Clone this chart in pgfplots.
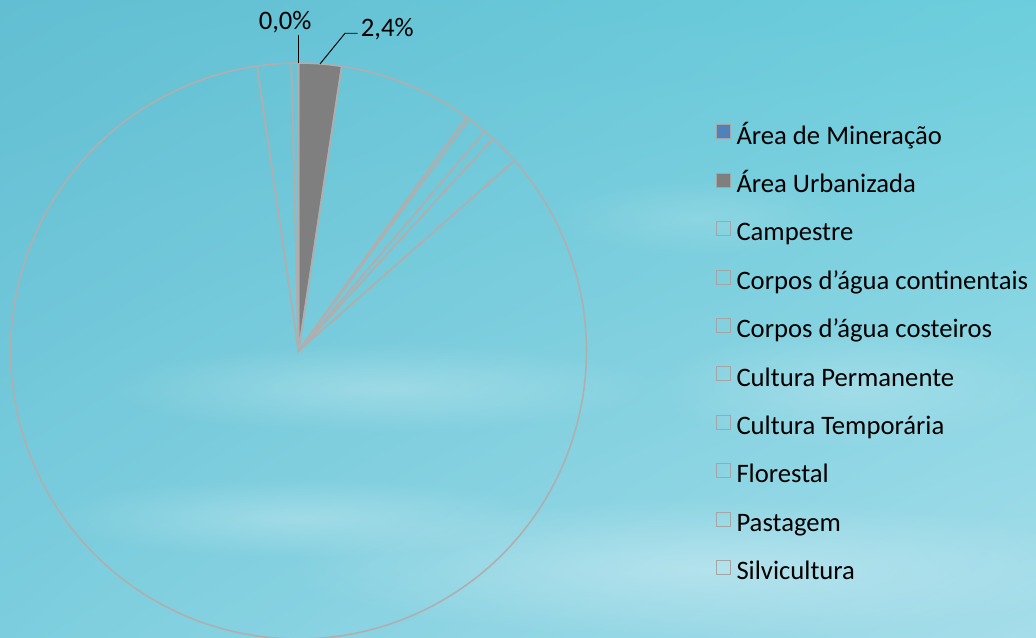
\documentclass[border=0pt]{standalone}
\usepackage{pgfplots}
\pgfplotsset{compat=1.18}
\usepgfplotslibrary{polar}
\usetikzlibrary{fadings,shadings}
\usepackage{fontspec}
\setmainfont{Carlito}
\definecolor{bgTL}{RGB}{98,190,210}
\definecolor{bgTR}{RGB}{108,206,220}
\definecolor{bgBL}{RGB}{124,206,222}
\definecolor{bgBR}{RGB}{166,221,234}
\definecolor{sliceline}{RGB}{175,175,175}
\definecolor{urbgray}{RGB}{127,127,127}
\definecolor{minblue}{RGB}{79,129,189}
\definecolor{boxgray}{RGB}{165,165,165}
\tikzfading[name=softcircle, inner color=transparent!0, outer color=transparent!100]
\begin{document}
\begin{tikzpicture}[x=0.75pt,y=0.75pt]
\useasboundingbox (0,0) rectangle (1036,638);
\shade[upper left=bgTL, upper right=bgTR, lower left=bgBL, lower right=bgBR] (0,0) rectangle (1036,638);
\clip (0,0) rectangle (1036,638);
\fill[white, opacity=0.25, path fading=softcircle] (380,250) ellipse (280 and 45);
\fill[white, opacity=0.3, path fading=softcircle] (700,70) ellipse (420 and 70);
\fill[white, opacity=0.25, path fading=softcircle] (300,120) ellipse (250 and 40);
\fill[white, opacity=0.2, path fading=softcircle] (850,250) ellipse (200 and 60);
\fill[white, opacity=0.15, path fading=softcircle] (700,420) ellipse (150 and 40);
% Pie: angles in degrees clockwise from 12 o'clock (3.6 x cumulative percentage)
% Mineracao 0.0 | Urbanizada 2.4 | Campestre 7.5 | Corpos cont. 0.2 | Corpos cost. 1.1
% Cult. Perm. 0.6 | Cult. Temp. 1.7 | Florestal 84.2 | Pastagem 1.9 | Silvicultura 0.4
\begin{polaraxis}[
  at={(223.875pt,215.25pt)}, anchor=origin,
  scale only axis, width=432pt, height=432pt,
  ymin=0, ymax=1, hide axis,
  x filter/.expression={90-x},
  clip=false,
  legend style={draw=none, fill=none, inner sep=0pt,
    at={(1.225,0.894)}, anchor=north west,
    font=\fontsize{20}{24}\selectfont, row sep=17.5pt,
    nodes={inner sep=0pt, text height=14pt, text depth=4pt},
    /tikz/every odd column/.append style={column sep=4pt}},
  legend cell align=left,
  legend image code/.code={\draw[#1, draw=boxgray, line width=0.6pt] (0pt,-1pt) rectangle (10.5pt,9.5pt);},
]
\addlegendimage{fill=minblue}
\addlegendentry{Área de Mineração}
\addlegendimage{fill=urbgray}
\addlegendentry{Área Urbanizada}
\addlegendimage{fill=none}
\addlegendentry{Campestre}
\addlegendimage{fill=none}
\addlegendentry{Corpos d’água continentais}
\addlegendimage{fill=none}
\addlegendentry{Corpos d’água costeiros}
\addlegendimage{fill=none}
\addlegendentry{Cultura Permanente}
\addlegendimage{fill=none}
\addlegendentry{Cultura Temporária}
\addlegendimage{fill=none}
\addlegendentry{Florestal}
\addlegendimage{fill=none}
\addlegendentry{Pastagem}
\addlegendimage{fill=none}
\addlegendentry{Silvicultura}
% slices
\addplot[forget plot, draw=sliceline, line width=1.2pt, fill=urbgray, domain=0:8.64, samples=5] {1} -- (axis cs:0,0) -- cycle;
\addplot[forget plot, draw=sliceline, line width=1.2pt, domain=8.64:35.64, samples=20] {1} -- (axis cs:0,0) -- cycle;
\addplot[forget plot, draw=sliceline, line width=1.2pt, domain=35.64:36.36, samples=2] {1} -- (axis cs:0,0) -- cycle;
\addplot[forget plot, draw=sliceline, line width=1.2pt, domain=36.36:40.32, samples=3] {1} -- (axis cs:0,0) -- cycle;
\addplot[forget plot, draw=sliceline, line width=1.2pt, domain=40.32:42.48, samples=2] {1} -- (axis cs:0,0) -- cycle;
\addplot[forget plot, draw=sliceline, line width=1.2pt, domain=42.48:48.6, samples=4] {1} -- (axis cs:0,0) -- cycle;
\addplot[forget plot, draw=sliceline, line width=1.2pt, domain=48.6:351.72, samples=200] {1} -- (axis cs:0,0) -- cycle;
\addplot[forget plot, draw=sliceline, line width=1.2pt, domain=351.72:358.56, samples=5] {1} -- (axis cs:0,0) -- cycle;
\addplot[forget plot, draw=sliceline, line width=1.2pt, domain=358.56:360, samples=2] {1} -- (axis cs:0,0) -- cycle;
\addplot[forget plot, draw=sliceline, line width=1.2pt] coordinates {(0,0) (0,1)};
% data labels
\draw[black, line width=0.7pt] (axis cs:90,1) -- (axis cs:90,1.097)
  node[above, xshift=-10pt, inner sep=1pt, font=\fontsize{20}{24}\selectfont] {0,0\%};
\draw[black, line width=0.7pt] (axis cs:85.7,1) -- (axis cs:81.67,1.115) -- ++(9.5pt,0)
  node[right, inner sep=2pt, yshift=3pt, font=\fontsize{20}{24}\selectfont] {2,4\%};
\end{polaraxis}
\end{tikzpicture}
\end{document}
